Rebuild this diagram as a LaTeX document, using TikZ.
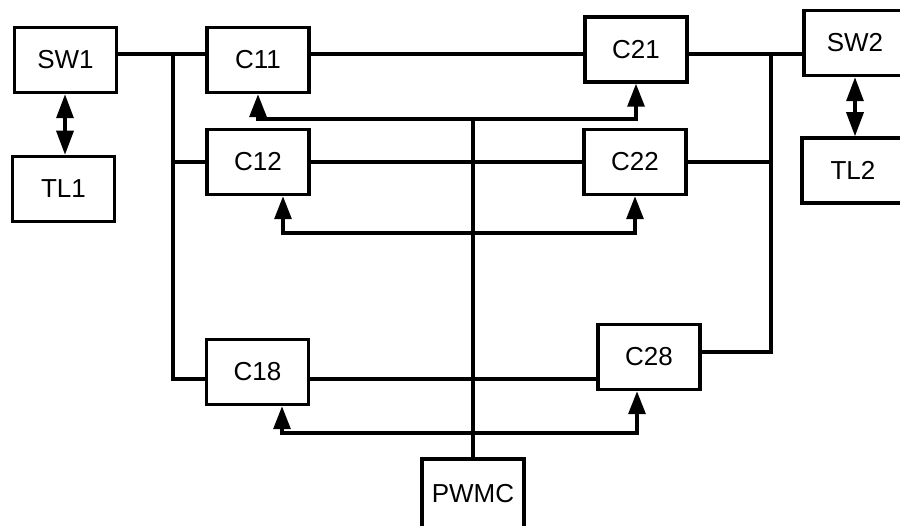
\documentclass[tikz,border=0pt]{standalone}
\usepackage{fontspec}
\setmainfont{Liberation Sans}
\usetikzlibrary{arrows.meta}
\begin{document}
\begin{tikzpicture}[x=1pt,y=-1pt,
  blk/.style={draw,line width=3.5pt,rectangle,minimum width=102pt,minimum height=65pt,inner sep=0pt,font=\fontsize{26}{26}\selectfont},
  wire/.style={line width=3.3pt,line cap=rect},
  ctrl/.style={line width=3.3pt,line join=miter,{Triangle[length=23pt,width=17pt]}-{Triangle[length=23pt,width=17pt]}},
  both/.style={line width=3.3pt,{Triangle[length=24pt,width=17pt]}-{Triangle[length=24pt,width=17pt]}}]
\useasboundingbox (0,0) rectangle (900,526);
% blocks
\node[blk] (SW1) at (65.5,60) {SW1};
\node[blk] (TL1) at (63.5,189) {TL1};
\node[blk] (C11) at (258,60) {C11};
\node[blk] (C12) at (258,162) {C12};
\node[blk] (C18) at (257.5,372) {C18};
\node[blk] (C21) at (636,49.5) {C21};
\node[blk] (C22) at (635,162) {C22};
\node[blk] (C28) at (649,357) {C28};
\node[blk] (SW2) at (855,43) {SW2};
\node[blk] (TL2) at (853,170.5) {TL2};
\node[blk,minimum height=70pt] (PWMC) at (473,494) {PWMC};
% junction coordinates
\coordinate (lt) at (173,54);
\coordinate (lb) at (173,379);
\coordinate (rt) at (771,54);
\coordinate (rb) at (771,352);
\coordinate (ptop) at (473,119);
% power lines
\draw[wire] (SW1.east |- lt) -- (C11.west |- lt);
\draw[wire] (C11.east |- lt) -- (C21.west |- lt);
\draw[wire] (C21.east |- rt) -- (SW2.west |- rt);
\draw[wire] (lt) -- (lb) -- (C18.west |- lb);
\draw[wire] (lt |- C12.west) -- (C12.west);
\draw[wire] (C12.east) -- (C22.west);
\draw[wire] (C18.east |- lb) -- (C28.west |- lb);
\draw[wire] (rt) -- (rb) -- (C28.east |- rb);
\draw[wire] (C22.east) -- (rt |- C22.east);
% control lines
\draw[wire] (PWMC.north) -- (ptop);
\draw[ctrl] (C11.south) |- (C21.south |- ptop) -- (C21.south);
\draw[ctrl] (C12.south -| 283,0) |- (C22.south |- 0,233) -- (C22.south);
\draw[ctrl] (C18.south -| 282,0) |- (637,433) -- (C28.south -| 637,0);
% bidirectional links
\draw[both] (SW1.south -| 65,0) -- (TL1.north -| 65,0);
\draw[both] (SW2.south -| 855,0) -- (TL2.north -| 855,0);
\end{tikzpicture}
\end{document}
